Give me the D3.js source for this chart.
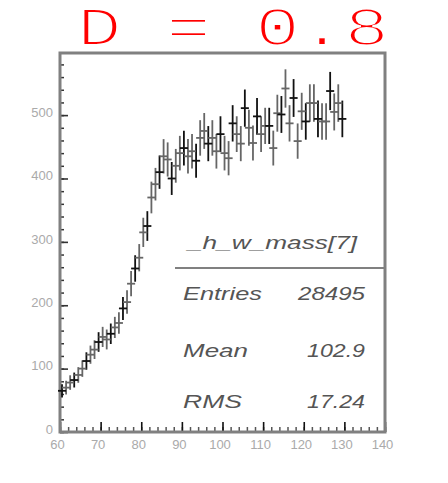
<!DOCTYPE html>
<html>
<head>
<meta charset="utf-8">
<script src="https://cdn.jsdelivr.net/npm/d3@7"></script>
<style>
  body { margin: 0; background: #fff; }
  svg { display: block; }
</style>
</head>
<body>
<div id="chart"></div>
<script>
// histogram _h_w_mass[7]: 1 GeV bins starting at 60
const binStart = 60;
const binWidth = 1;
const counts = [
    65, 70, 78, 82, 90, 100, 112, 122, 130, 142,
    150, 146, 155, 165, 172, 195, 205, 234, 258, 275,
    315, 325, 370, 391, 410, 435, 430, 400, 420, 440,
    448, 435, 443, 428, 464, 475, 455, 464, 443, 470,
    440, 432, 487, 470, 455, 511, 480, 456, 498, 470,
    483, 483, 448, 503, 501, 542, 487, 527, 459, 506,
    490, 519, 519, 494, 490, 490, 538, 505, 519, 494
];

const titleText = "D = 0.8";
const xTicks = [60, 70, 80, 90, 100, 110, 120, 130, 140];
const yTicks = [0, 100, 200, 300, 400, 500];
const statsTitle = "_h_w_mass[7]";
const statsLabels = ["Entries", "Mean", "RMS"];
const statsValues = ["28495", "102.9", "17.24"];

const width = 448, height = 483;
const frame = { left: 60, right: 385, top: 53, bottom: 432 };

const svg = d3.select("#chart").append("svg")
    .attr("width", width)
    .attr("height", height);

const x = d3.scaleLinear().domain([60, 140]).range([frame.left, frame.right]);
const y = d3.scaleLinear().domain([0, 598]).range([frame.bottom, frame.top]);

// title: white stroke over the fill thins the glyphs down to a courier-like weight
svg.append("text")
    .attr("x", 77)
    .attr("y", 45)
    .attr("font-family", "'Liberation Mono', 'Courier New', monospace")
    .attr("font-size", 54)
    .attr("textLength", 312)
    .attr("lengthAdjust", "spacingAndGlyphs")
    .attr("fill", "#ff0000")
    .attr("stroke", "#fff")
    .attr("stroke-width", 2.2)
    .text(titleText);

// minor ticks first, majors drawn over them
const xMinor = d3.range(60, 140.01, 2);
const yMinor = d3.range(0, 598, 20);

svg.append("g")
    .attr("transform", `translate(0,${frame.bottom})`)
    .call(d3.axisBottom(x).tickValues(xMinor).tickSize(-5).tickSizeOuter(0).tickFormat(""))
    .call(g => g.select(".domain").remove())
    .call(g => g.selectAll("line").attr("stroke", "#555").attr("stroke-width", 1.5));

svg.append("g")
    .attr("transform", `translate(${frame.left},0)`)
    .call(d3.axisLeft(y).tickValues(yMinor).tickSize(-4).tickSizeOuter(0).tickFormat(""))
    .call(g => g.select(".domain").remove())
    .call(g => g.selectAll("line").attr("stroke", "#333").attr("stroke-width", 1.5));

const xAxis = svg.append("g")
    .attr("transform", `translate(0,${frame.bottom})`)
    .call(d3.axisBottom(x).tickValues(xTicks).tickSize(-10).tickSizeOuter(0).tickPadding(8));
xAxis.select(".domain").remove();
xAxis.selectAll("line").attr("stroke", "#111").attr("stroke-width", 1.6);
xAxis.selectAll("text")
    .attr("dx", -3)
    .attr("font-family", "'Liberation Sans', Arial, sans-serif")
    .attr("font-size", 13)
    .attr("fill", "#aaa");

const yAxis = svg.append("g")
    .attr("transform", `translate(${frame.left},0)`)
    .call(d3.axisLeft(y).tickValues(yTicks).tickSize(-8).tickSizeOuter(0).tickPadding(7));
yAxis.select(".domain").remove();
yAxis.selectAll("line").attr("stroke", "#333").attr("stroke-width", 1.6);
yAxis.selectAll("text")
    .attr("dy", "0.1em")
    .attr("font-family", "'Liberation Sans', Arial, sans-serif")
    .attr("font-size", 13)
    .attr("fill", "#aaa");

// frame
svg.append("rect")
    .attr("x", frame.left)
    .attr("y", frame.top)
    .attr("width", frame.right - frame.left)
    .attr("height", frame.bottom - frame.top)
    .attr("fill", "none")
    .attr("stroke", "#808080")
    .attr("stroke-width", 3);

// data points with error bars
const bins = counts.map((c, i) => ({
    lo: binStart + i * binWidth,
    hi: binStart + (i + 1) * binWidth,
    mid: binStart + (i + 0.5) * binWidth,
    v: c,
    err: Math.sqrt(c) * 1.3
}));

const pts = svg.append("g").attr("class", "points");
pts.selectAll(".vbar")
    .data(bins)
    .join("line")
    .attr("class", "vbar")
    .attr("x1", d => x(d.mid)).attr("x2", d => x(d.mid))
    .attr("y1", d => y(d.v - d.err)).attr("y2", d => y(d.v + d.err))
    .attr("stroke", (d, i) => i % 3 === 0 ? "#111" : "#666")
    .attr("stroke-width", 1.8);
pts.selectAll(".hbar")
    .data(bins)
    .join("line")
    .attr("class", "hbar")
    .attr("x1", d => x(d.lo) - 2).attr("x2", d => x(d.hi) + 2)
    .attr("y1", d => y(d.v)).attr("y2", d => y(d.v))
    .attr("stroke", (d, i) => i % 3 === 0 ? "#111" : "#666")
    .attr("stroke-width", 1.8);

// stats box
const stats = svg.append("g")
    .attr("font-family", "'Liberation Sans', Arial, sans-serif")
    .attr("font-style", "italic")
    .attr("font-size", 19)
    .attr("fill", "#555");

stats.append("text")
    .attr("x", 188).attr("y", 249)
    .attr("textLength", 169).attr("lengthAdjust", "spacingAndGlyphs")
    .text(statsTitle);

stats.append("line")
    .attr("x1", 175).attr("x2", frame.right)
    .attr("y1", 268).attr("y2", 268)
    .attr("stroke", "#808080").attr("stroke-width", 2);

const rowY = [300, 357, 408];
const labelW = [79, 65, 59];
const valueW = [67, 58, 58];
statsLabels.forEach((lab, i) => {
    stats.append("text")
        .attr("x", 183).attr("y", rowY[i])
        .attr("textLength", labelW[i]).attr("lengthAdjust", "spacingAndGlyphs")
        .text(lab);
    stats.append("text")
        .attr("x", 365 - valueW[i]).attr("y", rowY[i])
        .attr("textLength", valueW[i]).attr("lengthAdjust", "spacingAndGlyphs")
        .text(statsValues[i]);
});
</script>
</body>
</html>
